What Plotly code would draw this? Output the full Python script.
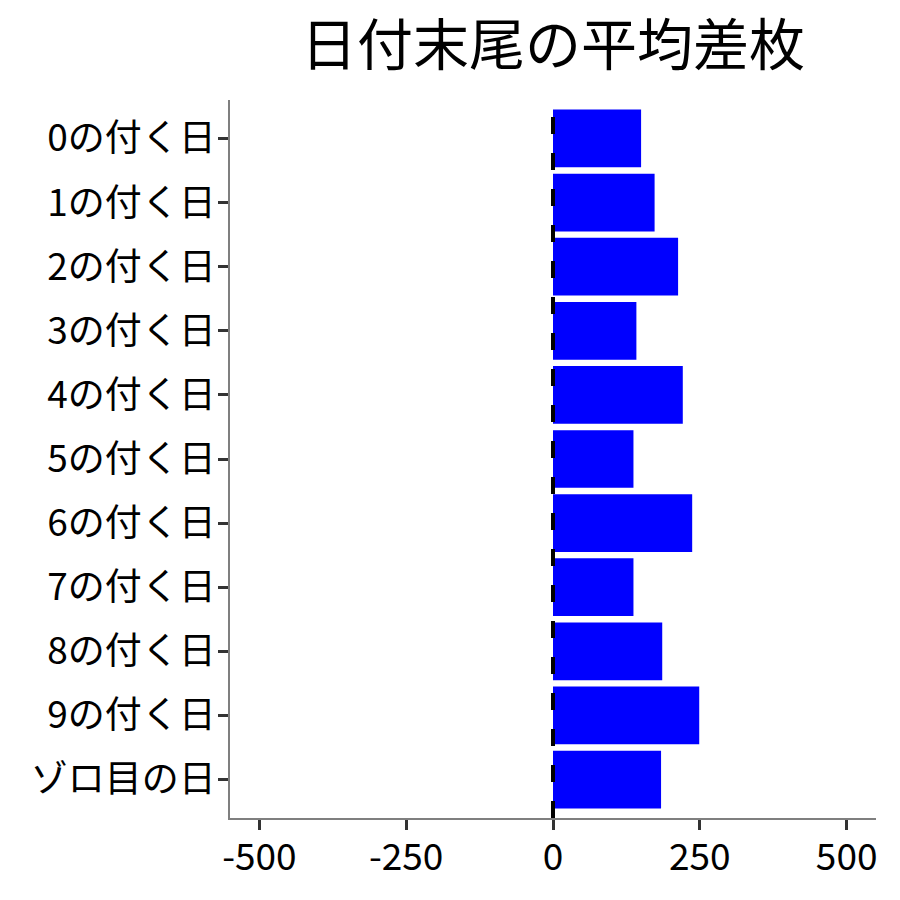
import plotly.graph_objects as go

categories = ["0の付く日", "1の付く日", "2の付く日", "3の付く日", "4の付く日",
              "5の付く日", "6の付く日", "7の付く日", "8の付く日", "9の付く日", "ゾロ目の日"]
values = [150, 173, 213, 142, 221, 137, 237, 137, 186, 249, 184]
x_ticks = [-500, -250, 0, 250, 500]
x_tick_labels = ["-500", "-250", "0", "250", "500"]
title_text = "日付末尾の平均差枚"

FONT = "Noto Sans CJK JP"

fig = go.Figure()
fig.add_trace(go.Bar(
    x=values, y=categories, orientation="h",
    marker=dict(color="#0000FF", line=dict(width=0)),
    width=0.9,
))

fig.add_shape(type="line", xref="x", yref="paper", x0=0, x1=0, y0=0, y1=1,
              line=dict(color="black", width=4, dash="17px,19px"), layer="above")

n = len(categories)
fig.update_layout(
    width=900, height=900,
    margin=dict(l=230, r=24, t=100, b=82),
    paper_bgcolor="white", plot_bgcolor="white",
    showlegend=False,
    font=dict(family=FONT, color="black"),
    title=dict(text=title_text, x=553 / 900, xanchor="center", y=0.95, yanchor="middle",
               font=dict(family=FONT, size=56, color="black")),
    bargap=0.1,
)
fig.update_xaxes(
    range=[-550, 550], tickmode="array", tickvals=x_ticks, ticktext=x_tick_labels,
    showgrid=False, zeroline=False,
    showline=True, linecolor="#7f7f7f", linewidth=1.5,
    ticks="outside", ticklen=10, tickwidth=2.5, tickcolor="#333333",
    tickfont=dict(family=FONT, size=37, color="black"),
    ticklabelstandoff=-4,
)
fig.update_yaxes(
    type="category", categoryorder="array", categoryarray=categories,
    range=[n - 0.4, -0.6],
    showgrid=False, zeroline=False,
    showline=True, linecolor="#7f7f7f", linewidth=1.5,
    ticks="outside", ticklen=10, tickwidth=2.5, tickcolor="#333333",
    tickfont=dict(family=FONT, size=37, color="black"),
    ticklabelstandoff=-5,
)

fig.write_html("out.html", config={"displayModeBar": False},
               post_script="document.body.style.margin='0';")
